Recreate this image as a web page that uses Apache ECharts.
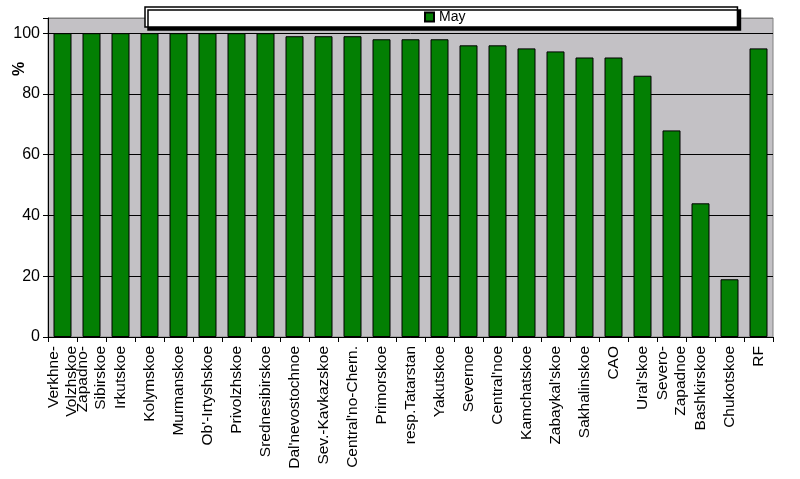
<!DOCTYPE html>
<html>
<head>
<meta charset="utf-8">
<script src="https://cdn.jsdelivr.net/npm/echarts@6/dist/echarts.min.js"></script>
<style>
    html, body { margin: 0; padding: 0; background: #fff; }
    #chart { width: 800px; height: 479px; }
</style>
</head>
<body>
<div id="chart"></div>
<script>
// данные
const regions = [
    'Verkhne-\nVolzhskoe', 'Zapadno-\nSibirskoe', 'Irkutskoe', 'Kolymskoe', 'Murmanskoe',
    "Ob'-Irtyshskoe", 'Privolzhskoe', 'Srednesibirskoe', "Dal'nevostochnoe", 'Sev.-Kavkazskoe',
    "Central'no-Chern.", 'Primorskoe', 'resp.Tatarstan', 'Yakutskoe', 'Severnoe',
    "Central'noe", 'Kamchatskoe', "Zabaykal'skoe", 'Sakhalinskoe', 'CAO',
    "Ural'skoe", 'Severo-\nZapadnoe', 'Bashkirskoe', 'Chukotskoe', 'RF'
];
const mayValues = [100, 100, 100, 100, 100, 100, 100, 100, 99, 99,
                   99, 98, 98, 98, 96, 96, 95, 94, 92, 92,
                   86, 68, 44, 19, 95];
const yTicks = [0, 20, 40, 60, 80, 100];

const chart = echarts.init(document.getElementById('chart'));

const font = 'Liberation Sans, Arial, sans-serif';

let option = {
    animation: false,
    textStyle: { fontFamily: font },
    legend: {
        data: [{ name: 'May', icon: 'rect' }],
        left: 145,
        top: 7,
        padding: [3, 272, 3, 279],
        itemWidth: 9,
        itemHeight: 9,
        itemGap: 5,
        backgroundColor: '#fff',
        borderColor: '#000',
        borderWidth: 1.5,
        shadowColor: '#000',
        shadowOffsetX: 3,
        shadowOffsetY: 3,
        shadowBlur: 0,
        textStyle: { fontSize: 14, color: '#000', fontFamily: font }
    },
    grid: {
        left: 48,
        right: 27,
        top: 18,
        bottom: 142,
        show: true,
        backgroundColor: '#C3C1C5',
        borderColor: '#808080',
        borderWidth: 1
    },
    xAxis: {
        type: 'category',
        data: regions,
        axisLine: { lineStyle: { color: '#000' } },
        axisTick: { show: true, length: 5, lineStyle: { color: '#000' } },
        axisLabel: {
            interval: 0,
            rotate: 90,
            fontSize: 15.5,
            color: '#000',
            margin: 9,
            lineHeight: 18,
            fontFamily: font
        }
    },
    yAxis: {
        type: 'value',
        min: yTicks[0],
        max: 105,
        interval: 20,
        axisLine: { show: true, lineStyle: { color: '#000' } },
        axisTick: { show: true, length: 5, lineStyle: { color: '#000' } },
        axisLabel: {
            fontSize: 16,
            color: '#000',
            margin: 8,
            fontFamily: font,
            formatter: v => (yTicks.indexOf(v) >= 0 ? v : '')
        },
        splitLine: {
            lineStyle: { color: ['#000', '#000', '#000', '#000', '#000', '#000', '#808080'] }
        }
    },
    graphic: [{
        type: 'text',
        x: 12,
        y: 76,
        rotation: Math.PI / 2,
        style: { text: '%', fontSize: 16, fontWeight: 'bold', fill: '#000', fontFamily: font }
    }],
    series: [{
        name: 'May',
        type: 'bar',
        data: mayValues,
        barWidth: 18,
        itemStyle: { color: '#037F03', borderColor: '#000', borderWidth: 1 }
    }]
};

chart.setOption(option);
</script>
</body>
</html>
